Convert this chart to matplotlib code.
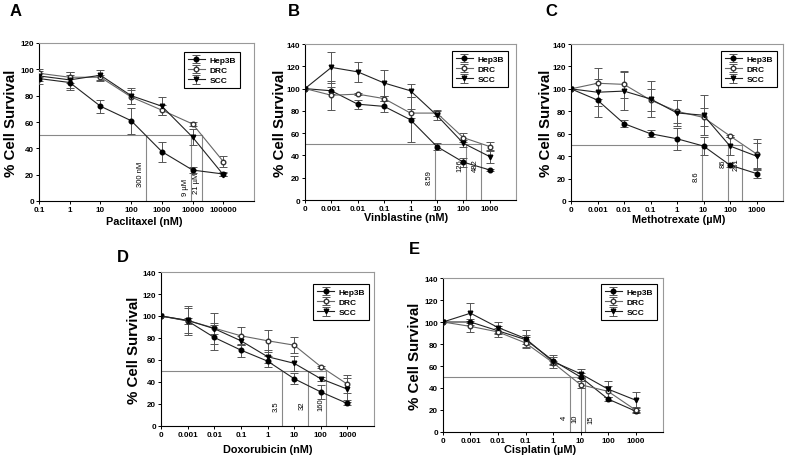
import matplotlib.pyplot as plt

plt.rcParams['font.family'] = ['Liberation Sans', 'DejaVu Sans']

# doses
doses_a = [0.1, 1, 10, 100, 1000, 10000, 100000]
doses = [0, 0.001, 0.01, 0.1, 1, 10, 100, 1000]
dose_labels = ['0', '0.001', '0.01', '0.1', '1', '10', '100', '1000']
dose_labels_a = ['0.1', '1', '10', '100', '1000', '10000', '100000']

# A - Paclitaxel
a_hep = [93, 90, 72, 61, 37.5, 23.5, 20.5]
a_hep_err = [4, 6, 5, 10, 7.5, 2.5, 1.5]
a_drc = [97, 94, 94, 79, 69, 58.5, 30]
a_drc_err = [3, 4, 2, 5, 4, 1.5, 4]
a_scc = [95, 92, 95.5, 80, 72, 48.5, 20]
a_scc_err = [4, 6, 4, 6, 7, 6, 1]
a_ic50 = [300, 9000, 21000]
a_ic50_lbl = ['300 nM', '9 µM', '21 µM']

# B - Vinblastine
b_hep = [100, 98, 86, 84, 72, 48, 34, 27]
b_hep_err = [0, 3, 4, 5, 20, 3, 4, 1]
b_drc = [100, 94, 95, 91, 78, 78, 56, 48]
b_drc_err = [0, 13, 1, 2, 4, 3, 4, 4]
b_scc = [100, 119, 115, 105, 98, 76, 51, 39]
b_scc_err = [0, 14, 9, 12, 6, 4, 3, 6]
b_ic50 = [8.59, 126, 482]
b_ic50_lbl = ['8.59', '126', '482']

# C - Methotrexate
c_hep = [100, 90, 69, 60, 55.5, 49, 32, 24.5]
c_hep_err = [0, 15, 3, 3, 10, 8, 2, 4]
c_drc = [100, 105, 104, 90, 80, 74.5, 58, 42]
c_drc_err = [0, 14, 12, 10, 10, 8, 1, 13]
c_scc = [100, 97, 98, 91, 78.5, 76.5, 49, 40]
c_scc_err = [0, 12, 17, 16, 12, 18, 8, 12]
c_ic50 = [8.6, 86, 281]
c_ic50_lbl = ['8.6', '86', '281']

# D - Doxorubicin
d_hep = [100, 95.5, 80.5, 69, 59, 43, 31, 20.5]
d_hep_err = [0, 3, 11, 6, 5, 5, 6, 1]
d_drc = [100, 96, 89, 82, 77.5, 73.5, 54, 38]
d_drc_err = [0, 11, 14, 8, 10, 7, 1, 8]
d_scc = [100, 96, 88.5, 77.5, 63, 57, 43, 33.5]
d_scc_err = [0, 13, 5, 4, 6, 7, 2, 10]
d_ic50 = [3.5, 32, 160]
d_ic50_lbl = ['3.5', '32', '160']

# E - Cisplatin
e_hep = [100, 100, 92, 84, 65, 50, 30, 19]
e_hep_err = [0, 3, 3, 4, 3, 4, 2, 1]
e_drc = [100, 96, 91, 81, 63, 43, 37, 20]
e_drc_err = [0, 5, 5, 5, 2, 3, 5, 3]
e_scc = [100, 108, 95, 85, 64, 53, 39, 29]
e_scc_err = [0, 9, 5, 8, 6, 4, 7, 7]
e_ic50 = [4, 10, 15]
e_ic50_lbl = ['4', '10', '15']

W, H = 787, 460
fig = plt.figure(figsize=(W / 100, H / 100), dpi=100)


def make_ax(l, r, t, b):
    return fig.add_axes([l / W, 1 - b / H, (r - l) / W, (b - t) / H])


def panel(ax, x, ticklabels, xlim, ymax, hep, hep_e, drc, drc_e, scc, scc_e,
          ic50, ic50_lbl, lbl_y, lbl_side, xlabel, ylab_px, xlab_px, xlab_x=0.5):
    x = [1e-4 if v == 0 else v for v in x]
    ax.set_xscale('log')

    # IC50 guide lines
    ax.plot([xlim[0], max(ic50)], [50, 50], color='#888888', lw=0.8, zorder=1)
    for v, s, yy, side in zip(ic50, ic50_lbl, lbl_y, lbl_side):
        ax.plot([v, v], [0, 50], color='#888888', lw=0.8, zorder=1)
        off = -1.5 if side == 'l' else 1.5
        ax.annotate(s, (v, yy), xytext=(off, 0), textcoords='offset points',
                    rotation=90, ha='right' if side == 'l' else 'left',
                    va='center', fontsize=5.5)

    kw = dict(lw=0.8, ms=3.3, elinewidth=0.7, capsize=3, capthick=0.7,
              ecolor='#555555', zorder=3)
    ax.errorbar(x, hep, yerr=hep_e, color='#222222', marker='o',
                mfc='black', mec='black', label='Hep3B', **kw)
    ax.errorbar(x, drc, yerr=drc_e, color='#666666', marker='o',
                mfc='white', mec='#333333', label='DRC', **kw)
    ax.errorbar(x, scc, yerr=scc_e, color='#222222', marker='v',
                mfc='black', mec='black', label='SCC', **kw)

    ax.set_xlim(xlim)
    ax.set_ylim(0, ymax)
    ax.set_xticks(x)
    ax.set_xticklabels(ticklabels)
    ax.minorticks_off()
    ax.set_yticks(range(0, ymax + 1, 20))
    ax.tick_params(labelsize=5.8, length=2, width=0.7, pad=1.5)
    for t in ax.get_xticklabels() + ax.get_yticklabels():
        t.set_fontweight('bold')
    for s in ['top', 'right']:
        ax.spines[s].set_color('#999999')
    for s in ax.spines.values():
        s.set_linewidth(0.8)

    # label offsets given in pixels from the axes edges
    bb = ax.get_position()
    w_px, h_px = bb.width * W, bb.height * H
    ax.set_ylabel('% Cell Survival', fontsize=10.8, fontweight='bold')
    ax.yaxis.label.set_va('center')
    ax.yaxis.set_label_coords(-ylab_px / w_px, 0.5)
    ax.set_xlabel(xlabel, fontsize=7.8, fontweight='bold')
    ax.xaxis.label.set_va('center')
    ax.xaxis.set_label_coords(xlab_x, -xlab_px / h_px)


ax_a = make_ax(39, 254, 44, 202)
panel(ax_a, doses_a, dose_labels_a, (0.1, 1e6), 120, a_hep, a_hep_err,
      a_drc, a_drc_err, a_scc, a_scc_err, a_ic50, a_ic50_lbl,
      [21, 11, 14], 'lll', 'Paclitaxel (nM)', 28, 20, 0.49)

ax_b = make_ax(305, 516, 45, 201)
panel(ax_b, doses, dose_labels, (1e-4, 1e4), 140, b_hep, b_hep_err,
      b_drc, b_drc_err, b_scc, b_scc_err, b_ic50, b_ic50_lbl,
      [21, 32, 32], 'lll', 'Vinblastine (nM)', 24.5, 17, 0.48)

ax_c = make_ax(571, 783, 45, 202)
panel(ax_c, doses, dose_labels, (1e-4, 1e4), 140, c_hep, c_hep_err,
      c_drc, c_drc_err, c_scc, c_scc_err, c_ic50, c_ic50_lbl,
      [23, 34, 33], 'lll', 'Methotrexate (µM)', 25, 18, 0.51)

ax_d = make_ax(161, 374, 273, 427)
panel(ax_d, doses, dose_labels, (1e-4, 1e4), 140, d_hep, d_hep_err,
      d_drc, d_drc_err, d_scc, d_scc_err, d_ic50, d_ic50_lbl,
      [18.5, 19.5, 20], 'lll', 'Doxorubicin (nM)', 27, 23, 0.5)

ax_e = make_ax(443, 663, 279, 433)
panel(ax_e, doses, dose_labels, (1e-4, 1e4), 140, e_hep, e_hep_err,
      e_drc, e_drc_err, e_scc, e_scc_err, e_ic50, e_ic50_lbl,
      [13.5, 13, 12], 'llr', 'Cisplatin (µM)', 28, 17, 0.44)

# legends, upper right corner in axes fraction
leg_pos = [(ax_a, 0.935, 0.943), (ax_b, 0.962, 0.955), (ax_c, 0.972, 0.955),
           (ax_d, 0.977, 0.922), (ax_e, 0.973, 0.961)]
for ax, lx, ly in leg_pos:
    leg = ax.legend(loc='upper right', bbox_to_anchor=(lx, ly), borderaxespad=0,
                    prop={'weight': 'bold', 'size': 6},
                    numpoints=1, handlelength=2.0, handletextpad=0.6,
                    labelspacing=0.3, borderpad=0.45, fancybox=False,
                    framealpha=1, edgecolor='black')
    leg.get_frame().set_linewidth(0.8)

# panel letters
for s, px, py in [('A', 16, 12), ('B', 294, 12), ('C', 551, 12),
                  ('D', 123, 258), ('E', 414, 250)]:
    fig.text(px / W, 1 - py / H, s, fontsize=12, fontweight='bold',
             ha='center', va='center')

fig.savefig('out.png', dpi=100)
